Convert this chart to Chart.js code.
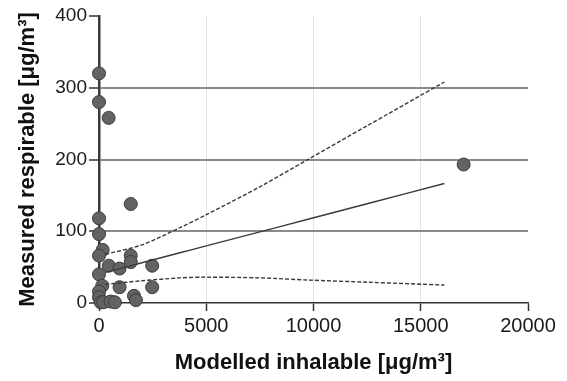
<!DOCTYPE html>
<html>
<head>
<meta charset="utf-8">
<script src="https://cdn.jsdelivr.net/npm/chart.js@4.4.1/dist/chart.umd.min.js"></script>
<style>
  html, body { margin: 0; padding: 0; background: #fff; }
  #wrap { width: 567px; height: 381px; position: relative; }
</style>
</head>
<body>
<div id="wrap"><canvas id="chart-respirable"></canvas></div>
<script>
// measured samples
const inhalable = [0, 0, 450, 1480, 0, 0, 170, 0, 460, 960, 1480, 1480, 2480, 0, 150, 0, 960, 2480, 0, 80, 200, 540, 740, 1630, 1720, 17000];
const respirable = [320, 280, 258, 138, 118, 96, 74, 66, 52, 48, 66, 57, 52, 40, 24, 16, 22, 22, 8, 1, 1, 2, 1, 10, 4, 193];

// regression line and confidence band
const bandX = [300, 2000, 3774, 5000, 7500, 9739, 12500, 16100];
const fitY = [42.7, 56.1, 70.0, 79.6, 99.1, 116.7, 138.3, 166.5];
const upperY = [68, 81, 105, 123, 162, 200, 247, 308];
const lowerY = [26, 31, 35, 36, 35, 32, 29, 25];

const xTicks = [0, 5000, 10000, 15000, 20000];
const yTicks = [0, 100, 200, 300, 400];

const toPoints = (xs, ys) => xs.map((x, i) => ({ x: x, y: ys[i] }));

const lineSet = (ys, dash) => ({
  data: toPoints(bandX, ys),
  showLine: true,
  pointRadius: 0,
  borderColor: '#3a3a3a',
  borderWidth: 1.4,
  borderDash: dash,
  tension: 0.3,
  clip: false
});

new Chart(document.getElementById('chart-respirable'), {
  type: 'scatter',
  data: {
    datasets: [
      lineSet(upperY, [4, 2]),
      lineSet(fitY, []),
      lineSet(lowerY, [4, 2]),
      {
        data: toPoints(inhalable, respirable),
        pointRadius: 6.5,
        pointBackgroundColor: '#636363',
        pointBorderColor: '#3c3c3c',
        pointBorderWidth: 1,
        clip: false
      }
    ]
  },
  options: {
    responsive: true,
    maintainAspectRatio: false,
    animation: false,
    layout: { padding: { left: 0, right: 39, top: 16, bottom: 0 } },
    plugins: {
      legend: { display: false },
      tooltip: { enabled: false }
    },
    scales: {
      x: {
        min: 0,
        max: 20000,
        afterBuildTicks: (scale) => { scale.ticks = xTicks.map(v => ({ value: v })); },
        afterFit: (scale) => { scale.height = 78; },
        ticks: {
          color: '#1a1a1a',
          padding: 3,
          maxRotation: 0,
          callback: (value) => String(value),
          font: { family: 'Liberation Sans, Arial, sans-serif', size: 20 }
        },
        grid: {
          color: (ctx) => (ctx.tick && ctx.tick.value > 0 && ctx.tick.value < 20000) ? '#e4e4e4' : 'rgba(0,0,0,0)',
          lineWidth: 1,
          tickColor: '#333',
          tickLength: 8,
          tickWidth: 1.5
        },
        border: { display: true, color: '#333', width: 1.5 },
        title: {
          display: true,
          text: 'Modelled inhalable [μg/m³]',
          color: '#111',
          padding: { top: 0, bottom: 5 },
          font: { family: 'Liberation Sans, Arial, sans-serif', size: 22, weight: 'bold' }
        }
      },
      y: {
        min: 0,
        max: 400,
        afterBuildTicks: (scale) => { scale.ticks = yTicks.map(v => ({ value: v })); },
        afterFit: (scale) => { scale.width = 99; },
        ticks: {
          color: '#1a1a1a',
          padding: 2,
          callback: (value) => String(value),
          font: { family: 'Liberation Sans, Arial, sans-serif', size: 19 }
        },
        grid: {
          color: (ctx) => (ctx.tick && ctx.tick.value > 0 && ctx.tick.value < 400) ? '#8a8a8a' : 'rgba(0,0,0,0)',
          lineWidth: 2,
          tickColor: '#333',
          tickLength: 10,
          tickWidth: 1.5
        },
        border: { display: true, color: '#3a3a3a', width: 2.5 },
        title: {
          display: true,
          text: 'Measured respirable [μg/m³]',
          color: '#111',
          padding: { top: 15, bottom: 0 },
          font: { family: 'Liberation Sans, Arial, sans-serif', size: 22, weight: 'bold' }
        }
      }
    }
  }
});
</script>
</body>
</html>
